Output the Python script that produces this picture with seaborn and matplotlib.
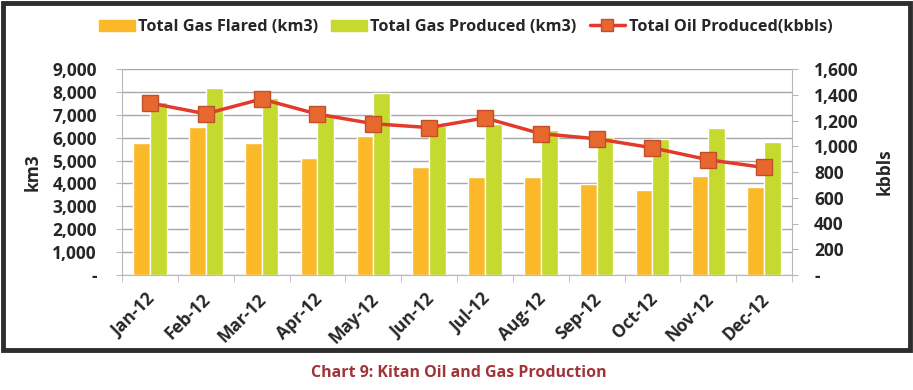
import numpy as np
import pandas as pd
import matplotlib
matplotlib.use("Agg")
import matplotlib.pyplot as plt
import matplotlib.transforms as mtransforms
import seaborn as sns
from matplotlib.patches import Patch, Rectangle
from matplotlib.lines import Line2D
from matplotlib.ticker import FixedLocator, FuncFormatter

months = ["Jan-12", "Feb-12", "Mar-12", "Apr-12", "May-12", "Jun-12",
          "Jul-12", "Aug-12", "Sep-12", "Oct-12", "Nov-12", "Dec-12"]
gas_flared = [5760, 6450, 5780, 5100, 6070, 4720, 4280, 4280, 3980, 3710, 4320, 3850]
gas_produced = [7550, 8150, 7730, 6950, 7950, 6500, 6600, 6350, 6050, 5950, 6420, 5810]
oil_produced = [1336, 1252, 1367, 1250, 1175, 1145, 1220, 1098, 1058, 988, 895, 835]

series_names = ["Total Gas Flared (km3)", "Total Gas Produced (km3)"]
oil_name = "Total Oil Produced(kbbls)"

c_flared = "#FBB829"
c_prod = "#C5D92E"
c_line = "#E33A2C"
c_marker = "#E8672F"

sns.set_style("white")
plt.rcParams['font.family'] = ['Open Sans', 'DejaVu Sans']

df = pd.DataFrame({
    "month": months * 2,
    "value": gas_flared + gas_produced,
    "series": [series_names[0]] * 12 + [series_names[1]] * 12,
})

fig = plt.figure(figsize=(9.13, 3.9), dpi=100)
ax = fig.add_axes([122 / 913, 1 - 275 / 390, (792 - 122) / 913, (275 - 69) / 390])

sns.barplot(data=df, x="month", y="value", hue="series", order=months,
            hue_order=series_names, palette=[c_flared, c_prod],
            width=0.6, gap=0, ax=ax, legend=False, saturation=1, zorder=2)

ax.set_ylim(0, 9000)
ax.set_xlim(-0.5, 11.5)
ax.yaxis.set_major_locator(FixedLocator(np.arange(0, 9001, 1000)))
ax.yaxis.set_major_formatter(FuncFormatter(lambda v, p: "-" if v == 0 else f"{int(v):,}"))
ax.grid(axis="y", color="#A8A8A8", linewidth=1.0, zorder=0)
ax.set_axisbelow(True)
for s in ["top", "right"]:
    ax.spines[s].set_visible(False)
ax.spines["left"].set_color("#B8B8B8")
ax.spines["bottom"].set_color("#B8B8B8")
ax.set_xlabel("")
ax.set_ylabel("km3", fontsize=12.5, fontweight="bold", labelpad=8)
ax.tick_params(axis="y", labelsize=12.5, length=4, color="#B8B8B8", left=True, pad=14)
for t in ax.get_yticklabels():
    t.set_fontweight("bold")
ax.set_xticks(np.arange(12))
ax.set_xticklabels(months, rotation=45, ha="right", rotation_mode="anchor",
                   fontsize=12.5, fontweight="bold")
ax.tick_params(axis="x", length=0, pad=11)
shift = mtransforms.ScaledTranslation(-4 / 100, 0, fig.dpi_scale_trans)
for t in ax.get_xticklabels():
    t.set_transform(t.get_transform() + shift)
ax.set_xticks(np.arange(-0.5, 12, 1), minor=True)
ax.tick_params(axis="x", which="minor", length=5, color="#B8B8B8", bottom=True)

ax2 = ax.twinx()
sns.lineplot(x=np.arange(12), y=oil_produced, ax=ax2, color=c_line, linewidth=2.5,
             marker="s", markersize=11, markerfacecolor=c_marker,
             markeredgecolor="#C0502A", markeredgewidth=1, zorder=5)
ax2.set_ylim(0, 1600)
ax2.yaxis.set_major_locator(FixedLocator(np.arange(0, 1601, 200)))
ax2.yaxis.set_major_formatter(FuncFormatter(lambda v, p: "-" if v == 0 else f"{int(v):,}"))
for s in ["top", "left", "bottom"]:
    ax2.spines[s].set_visible(False)
ax2.spines["right"].set_color("#B8B8B8")
ax2.tick_params(axis="y", labelsize=12.5, length=4, color="#B8B8B8", right=True, pad=12)
for t in ax2.get_yticklabels():
    t.set_fontweight("bold")
ax2.set_ylabel("kbbls", fontsize=12.5, fontweight="bold", labelpad=12)
ax2.set_xlim(-0.5, 11.5)

handles = [Patch(color=c_flared), Patch(color=c_prod),
           Line2D([0], [0], color=c_line, linewidth=2.5, marker="s", markersize=9,
                  markerfacecolor=c_marker, markeredgecolor="#C0502A")]
fig.legend(handles, series_names + [oil_name], loc="center", bbox_to_anchor=(0.51, 1 - 27 / 390),
           ncol=3, frameon=False, prop={"weight": "bold", "size": 11.7},
           handlelength=2.2, handletextpad=0.2, columnspacing=0.8)

fig.patches.append(Rectangle((3 / 913, 1 - 350 / 390), 907 / 913, 347 / 390,
                             transform=fig.transFigure, fill=False,
                             edgecolor="#2E2E2E", linewidth=3.5))
fig.text(0.502, 1 - 373 / 390, "Chart 9: Kitan Oil and Gas Production",
         ha="center", va="center", fontsize=11.5, fontweight="bold", color="#A1343A")

fig.savefig("out.png", dpi=100)
